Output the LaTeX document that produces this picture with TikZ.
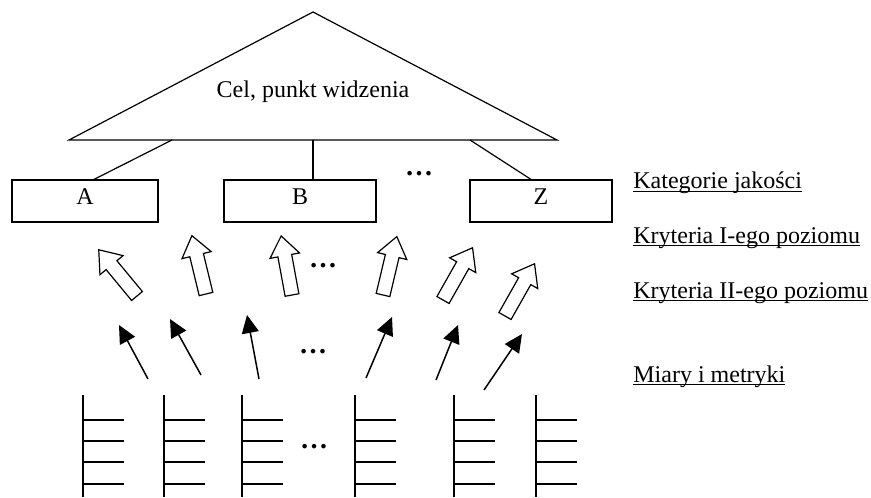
\documentclass[tikz,border=0pt]{standalone}
\usepackage{fontspec}
\setmainfont{Liberation Serif}
\usetikzlibrary{arrows.meta,calc}

\newcommand{\HollowArrow}[3]{\draw[hollow,shift={(#1,#2)},rotate=#3] (0,-7) -- (40,-7) -- (40,-15) -- (60,0) -- (40,15) -- (40,7) -- (0,7) -- cycle;}
\newcommand{\MetricLadder}[1]{%
  \draw[ladder] (#1,395) -- (#1,497);
  \foreach \ry in {420,441,462,484} \draw[ladder] (#1,\ry) -- ++(41,0);}
\newcommand{\LevelText}[1]{\setbox0\hbox{#1}\rlap{\rule[-1.6pt]{\wd0}{0.6pt}}\box0}

\begin{document}
\begin{tikzpicture}[x=0.5pt,y=-0.5pt,
    every node/.style={font=\fontsize{12}{14}\selectfont},
    box/.style={draw,line width=0.6pt,minimum height=21pt,inner sep=0pt,text depth=4pt},
    level/.style={anchor=base west,inner sep=0pt},
    hollow/.style={draw,line width=0.6pt,fill=white},
    ladder/.style={line width=0.8pt},
    metric/.style={line width=0.75pt,-{Triangle[length=9pt,width=8.5pt]}},
    more/.style={font=\fontsize{14}{16}\selectfont\bfseries}]
    \useasboundingbox (0,0) rectangle (871,497);
    % cel
    \coordinate (apex) at (313,12);
    \coordinate (bl) at (69,140);
    \coordinate (br) at (557,140);
    \draw[line width=0.6pt] (apex) -- (bl) -- (br) -- cycle;
    \node[anchor=base] (goal) at (313,98) {Cel, punkt widzenia};
    % kategorie
    \node[box,minimum width=73pt] (A) at (85,201) {A};
    \node[box,minimum width=76pt] (B) at (300,201) {B};
    \node[box,minimum width=71pt] (Z) at (541,201) {Z};
    \node[more] (dotsK) at (419,174) {…};
    \coordinate (ja) at (172,140);
    \coordinate (jb) at (313,140);
    \coordinate (jz) at (470,140);
    \draw[line width=0.6pt] (ja) -- ($(A.north)+(9,0)$);
    \draw[line width=0.6pt] (jb) -- (jb |- B.north);
    \draw[line width=0.6pt] (jz) -- ($(Z.north)+(-10,0)$);
    % kryteria I
    \HollowArrow{137}{296}{129.6}
    \HollowArrow{206}{294}{103.6}
    \HollowArrow{292}{295}{100.4}
    \HollowArrow{383}{295}{76.7}
    \HollowArrow{443}{300}{60.5}
    \HollowArrow{505}{316}{60.5}
    \node[more] (dotsI) at (323,266) {…};
    % kryteria II
    \coordinate (m1) at (148,379); \coordinate (c1) at (119,325);
    \coordinate (m2) at (201,375); \coordinate (c2) at (170,319);
    \coordinate (m3) at (259,379); \coordinate (c3) at (247,315);
    \coordinate (m4) at (366,378); \coordinate (c4) at (392,317);
    \coordinate (m5) at (436,380); \coordinate (c5) at (458,325);
    \coordinate (m6) at (484,390); \coordinate (c6) at (522,334);
    \draw[metric] (m1) -- (c1);
    \draw[metric] (m2) -- (c2);
    \draw[metric] (m3) -- (c3);
    \draw[metric] (m4) -- (c4);
    \draw[metric] (m5) -- (c5);
    \draw[metric] (m6) -- (c6);
    \node[more] (dotsII) at (313,352) {…};
    % miary
    \MetricLadder{83}
    \MetricLadder{164}
    \MetricLadder{242}
    \MetricLadder{355}
    \MetricLadder{454}
    \MetricLadder{536}
    \node[more] (dotsM) at (314,447) {…};
    %
    \node[level] (lk) at (633,189) {\LevelText{Kategorie jakości}};
    \node[level] (l1) at (633,243) {\LevelText{Kryteria I-ego poziomu}};
    \node[level] (l2) at (633,298) {\LevelText{Kryteria II-ego poziomu}};
    \node[level] (lm) at (633,382) {\LevelText{Miary i metryki}};
\end{tikzpicture}
\end{document}
